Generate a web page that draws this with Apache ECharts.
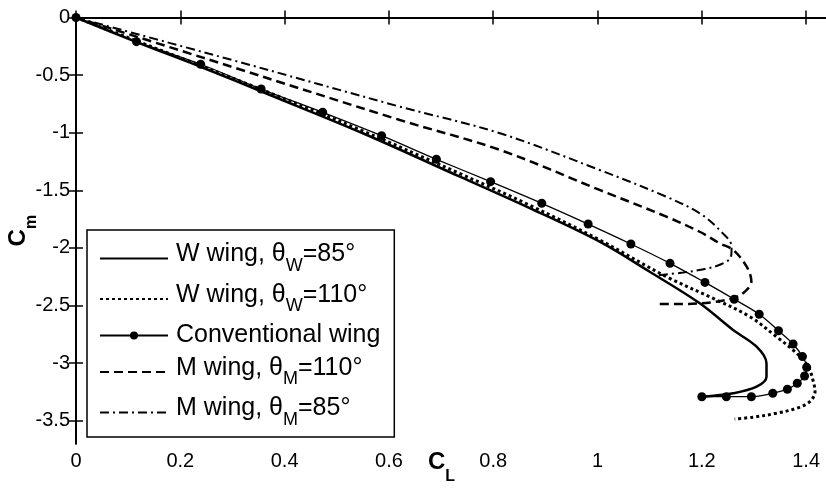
<!DOCTYPE html>
<html>
<head>
<meta charset="utf-8">
<style>
  html, body { margin: 0; padding: 0; background: #fff; }
  #chart { width: 826px; height: 495px; }
</style>
<script src="https://cdn.jsdelivr.net/npm/echarts@6/dist/echarts.min.js"></script>
</head>
<body>
<div id="chart"></div>
<script>
// Pitching moment coefficient vs. lift coefficient, [CL, Cm] pairs
const wWing85 = [
  [0, 0], [0.12, -0.22], [0.24, -0.43], [0.372, -0.673], [0.55, -1.005],
  [0.736, -1.382], [0.87, -1.655], [1.004, -1.946], [1.1, -2.207],
  [1.196, -2.481], [1.26, -2.713], [1.305, -2.858], [1.324, -3.002],
  [1.324, -3.118], [1.305, -3.205], [1.26, -3.262], [1.2, -3.292]
];
const wWing110 = [
  [0, 0], [0.12, -0.21], [0.24, -0.42], [0.372, -0.655], [0.55, -0.985],
  [0.736, -1.355], [0.87, -1.63], [1.004, -1.931], [1.132, -2.25],
  [1.228, -2.452], [1.292, -2.597], [1.343, -2.771], [1.382, -2.915],
  [1.404, -3.031], [1.413, -3.147], [1.417, -3.248], [1.407, -3.335],
  [1.382, -3.392], [1.343, -3.436], [1.298, -3.47], [1.263, -3.485]
];
const conventionalWing = [
  [0, 0], [0.116, -0.21], [0.239, -0.406], [0.355, -0.621], [0.473, -0.823],
  [0.586, -1.026], [0.691, -1.231], [0.795, -1.425], [0.893, -1.613],
  [0.982, -1.793], [1.064, -1.966], [1.139, -2.134], [1.206, -2.3],
  [1.262, -2.446], [1.31, -2.576], [1.347, -2.719], [1.375, -2.834],
  [1.393, -2.944], [1.401, -3.036], [1.397, -3.112], [1.383, -3.175],
  [1.364, -3.227], [1.336, -3.262], [1.295, -3.292], [1.247, -3.292],
  [1.2, -3.292]
];
const mWing110 = [
  [0, 0], [0.3, -0.43], [0.621, -0.89], [0.813, -1.15], [1.004, -1.497],
  [1.132, -1.729], [1.196, -1.86], [1.234, -1.96], [1.26, -2.018],
  [1.286, -2.163], [1.295, -2.293], [1.286, -2.365], [1.267, -2.424],
  [1.228, -2.467], [1.164, -2.487], [1.11, -2.487]
];
const mWing85 = [
  [0, 0], [0.3, -0.37], [0.621, -0.774], [0.813, -1.005], [1.004, -1.324],
  [1.132, -1.556], [1.196, -1.7], [1.234, -1.845], [1.257, -1.99],
  [1.256, -2.076], [1.238, -2.14], [1.206, -2.183], [1.164, -2.214],
  [1.11, -2.24]
];

const xTicks = [0, 0.2, 0.4, 0.6, 0.8, 1, 1.2, 1.4];
const yTicks = [-3.5, -3, -2.5, -2, -1.5, -1, -0.5, 0];

const legendLabels = {
  'W wing 85': '{t|W wing, θ}{s|W}{t|=85°}',
  'W wing 110': '{t|W wing, θ}{s|W}{t|=110°}',
  'Conventional wing': '{c|Conventional wing}',
  'M wing 110': '{t|M wing, θ}{s|M}{t|=110°}',
  'M wing 85': '{t|M wing, θ}{s|M}{t|=85°}'
};

const FONT = 'Arial, "Liberation Sans", sans-serif';
const INK = '#000';

const chart = echarts.init(document.getElementById('chart'), null, { renderer: 'canvas' });

const axisLineStyle = { color: INK, width: 1.8 };
const tickStyle = { inside: true, length: 7, lineStyle: { color: INK, width: 1.5 } };

// C with a bold subscript, used for both axis titles
const titleRich = {
  c: { fontSize: 24, fontWeight: 'bold', color: INK, fontFamily: FONT, verticalAlign: 'top', lineHeight: 24 },
  s: { fontSize: 16, fontWeight: 'bold', color: INK, fontFamily: FONT, verticalAlign: 'bottom', padding: [18, 0, 0, 0] }
};

function lineSeries(name, data, lineStyle, extra) {
  return Object.assign({
    name: name,
    type: 'line',
    data: data,
    smooth: 0.35,
    symbol: 'none',
    showSymbol: false,
    lineStyle: Object.assign({ color: INK }, lineStyle),
    itemStyle: { color: INK },
    emphasis: { disabled: true },
    animation: false,
    z: 3
  }, extra || {});
}

// legend entries without a marker only show their line
const noMarker = { color: 'rgba(0,0,0,0)', borderWidth: 0, opacity: 0 };

chart.setOption({
  backgroundColor: '#fff',
  animation: false,
  textStyle: { fontFamily: FONT },
  grid: { left: 76, top: 17.5, width: 751, height: 426.2, containLabel: false, outerBoundsMode: 'none' },
  xAxis: [{
    type: 'value', min: 0, max: 1.44, position: 'bottom',
    axisLine: { show: true, lineStyle: axisLineStyle },
    axisTick: Object.assign({ customValues: xTicks }, tickStyle),
    axisLabel: { customValues: xTicks, color: INK, fontSize: 20, margin: 8, fontFamily: FONT },
    splitLine: { show: false },
    name: '{c|C}{s|L}',
    nameLocation: 'middle',
    nameGap: 7,
    nameMoveOverlap: false,
    nameTextStyle: { padding: [0, 20, 0, 0], rich: titleRich }
  }, {
    type: 'value', min: 0, max: 1.44, position: 'top',
    axisLine: { show: true, lineStyle: axisLineStyle },
    axisTick: Object.assign({ customValues: xTicks }, tickStyle),
    axisLabel: { show: false },
    splitLine: { show: false }
  }],
  yAxis: [{
    type: 'value', min: -3.7, max: 0, position: 'left',
    axisLine: { show: true, lineStyle: axisLineStyle },
    axisTick: Object.assign({ customValues: yTicks }, tickStyle),
    axisLabel: { customValues: yTicks, color: INK, fontSize: 20, margin: 6, fontFamily: FONT },
    splitLine: { show: false },
    name: '{c|C}{s|m}',
    nameLocation: 'middle',
    nameRotate: 90,
    nameGap: 36,
    nameMoveOverlap: false,
    nameTextStyle: { rich: titleRich }
  }, {
    type: 'value', min: -3.7, max: 0, position: 'right',
    axisLine: { show: true, lineStyle: axisLineStyle },
    axisTick: Object.assign({ customValues: yTicks }, tickStyle),
    axisLabel: { show: false },
    splitLine: { show: false }
  }],
  legend: {
    orient: 'vertical',
    left: 87,
    top: 230,
    padding: [12, 14, 8, 12],
    itemGap: 7.5,
    itemWidth: 68,
    itemHeight: 10,
    backgroundColor: '#fff',
    borderColor: INK,
    borderWidth: 1.5,
    borderRadius: 0,
    selectedMode: false,
    data: [
      { name: 'W wing 85', itemStyle: noMarker },
      { name: 'W wing 110', itemStyle: noMarker },
      { name: 'Conventional wing' },
      { name: 'M wing 110', itemStyle: noMarker },
      { name: 'M wing 85', itemStyle: noMarker }
    ],
    formatter: function (name) { return legendLabels[name]; },
    textStyle: {
      color: INK,
      fontFamily: FONT,
      padding: [0, 0, 0, 3],
      rich: {
        t: { fontSize: 25, color: INK, fontFamily: FONT, verticalAlign: 'top', lineHeight: 25 },
        s: { fontSize: 18, color: INK, fontFamily: FONT, verticalAlign: 'bottom', padding: [15, 0, 0, 0] },
        c: { fontSize: 25, color: INK, fontFamily: FONT, lineHeight: 25 }
      }
    }
  },
  series: [
    lineSeries('W wing 85', wWing85, { width: 2.5, type: 'solid' }),
    lineSeries('W wing 110', wWing110, { width: 3, type: [3, 3], cap: 'butt' }),
    lineSeries('Conventional wing', conventionalWing, { width: 1.3, type: 'solid' },
      { symbol: 'circle', showSymbol: true, symbolSize: 9 }),
    lineSeries('M wing 110', mWing110, { width: 2.5, type: [9, 5] }),
    lineSeries('M wing 85', mWing85, { width: 2, type: [9, 4, 2, 4] })
  ]
});
</script>
</body>
</html>
